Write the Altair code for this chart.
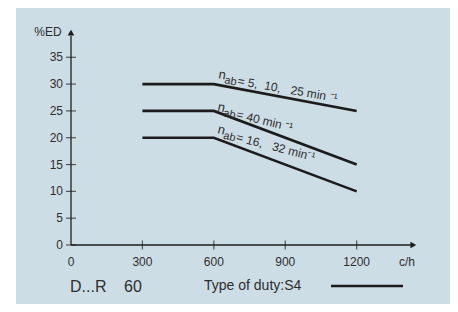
import altair as alt
import pandas as pd

# ---- data ----
x_knots = [300, 600, 1200]
ed_a = [30, 30, 25]   # n_ab = 5, 10, 25 min-1
ed_b = [25, 25, 15]   # n_ab = 40 min-1
ed_c = [20, 20, 10]   # n_ab = 16, 32 min-1

x_ticks = [300, 600, 900, 1200]
x_tick_labels = ["0", "300", "600", "900", "1200"]
x_label_vals = [0, 300, 600, 900, 1200]
y_ticks = [0, 5, 10, 15, 20, 25, 30, 35]

NB = "\u00a0"
label_texts = [
    "=" + NB + "5," + NB * 2 + "10," + NB * 3 + "25" + NB + "min" + NB + "\u207b\u00b9",
    "=" + NB + "40" + NB + "min" + NB + "\u207b\u00b9",
    "=" + NB + "16," + NB * 3 + "32" + NB + "min\u207b\u00b9",
]
label_x = [617, 613, 613]
label_y = [31.1, 25.1, 20.9]
label_angle = [10, 13.5, 14.5]

x_axis_end = 1430
y_axis_end = 39
x_arrow = 1438
y_arrow = 39.6

PANEL = "#cddde6"
INK = "#1c1c1c"
TXT = "#2e2e2e"
FONT = "Liberation Sans"

xs = alt.Scale(domain=[-231, 1592], nice=False, zero=False)
ys = alt.Scale(domain=[-11.0, 44.19], nice=False, zero=False)

rows = []
for name, vals in [("a", ed_a), ("b", ed_b), ("c", ed_c)]:
    for xv, yv in zip(x_knots, vals):
        rows.append({"series": name, "x": xv, "y": yv})
df_lines = pd.DataFrame(rows)

lines = alt.Chart(df_lines).mark_line(color=INK, strokeWidth=2.6).encode(
    x=alt.X("x:Q", scale=xs, axis=None),
    y=alt.Y("y:Q", scale=ys, axis=None),
    detail="series:N",
)

xaxis = alt.Chart(pd.DataFrame({"x": [0], "x2": [x_axis_end], "y": [0]})).mark_rule(
    color=INK, strokeWidth=1.3).encode(
    x=alt.X("x:Q", scale=xs, axis=None), x2="x2:Q", y=alt.Y("y:Q", scale=ys, axis=None))
yaxis = alt.Chart(pd.DataFrame({"x": [0], "y": [0], "y2": [y_axis_end]})).mark_rule(
    color=INK, strokeWidth=1.3).encode(
    x=alt.X("x:Q", scale=xs, axis=None), y=alt.Y("y:Q", scale=ys, axis=None), y2="y2:Q")

ytk = alt.Chart(pd.DataFrame({"x": 0, "y": y_ticks})).mark_tick(
    orient="horizontal", size=10, thickness=1.2, color=INK).encode(
    x=alt.X("x:Q", scale=xs, axis=None), y=alt.Y("y:Q", scale=ys, axis=None))
xtk = alt.Chart(pd.DataFrame({"x": x_ticks, "y": 0})).mark_tick(
    orient="vertical", size=9, thickness=1.2, color=INK).encode(
    x=alt.X("x:Q", scale=xs, axis=None), y=alt.Y("y:Q", scale=ys, axis=None))

arrow_up = alt.Chart(pd.DataFrame({"x": [0], "y": [y_arrow]})).mark_point(
    shape="triangle-up", filled=True, size=45, color=INK, opacity=1).encode(
    x=alt.X("x:Q", scale=xs, axis=None), y=alt.Y("y:Q", scale=ys, axis=None))
arrow_right = alt.Chart(pd.DataFrame({"x": [x_arrow], "y": [0]})).mark_point(
    shape="triangle-right", filled=True, size=45, color=INK, opacity=1).encode(
    x=alt.X("x:Q", scale=xs, axis=None), y=alt.Y("y:Q", scale=ys, axis=None))

ylab = alt.Chart(pd.DataFrame({"x": 0, "y": y_ticks, "t": [str(v) for v in y_ticks]})).mark_text(
    align="right", baseline="middle", dx=-8, fontSize=12, font=FONT, color=TXT).encode(
    x=alt.X("x:Q", scale=xs, axis=None), y=alt.Y("y:Q", scale=ys, axis=None), text="t:N")
xlab = alt.Chart(pd.DataFrame({"x": x_label_vals, "y": 0, "t": x_tick_labels})).mark_text(
    align="center", baseline="middle", dy=17, fontSize=12, font=FONT, color=TXT).encode(
    x=alt.X("x:Q", scale=xs, axis=None), y=alt.Y("y:Q", scale=ys, axis=None), text="t:N")

df_lab = pd.DataFrame({"x": label_x, "y": label_y, "a": label_angle, "t": label_texts})
def lab_layer(text_field, dx, dy, size):
    return alt.Chart(df_lab).mark_text(
        align="left", baseline="alphabetic", dx=dx, dy=dy, fontSize=size, font=FONT, color=TXT).encode(
        x=alt.X("x:Q", scale=xs, axis=None), y=alt.Y("y:Q", scale=ys, axis=None),
        angle=alt.Angle("a:Q", scale=None), text=text_field)

lab_n = lab_layer(alt.value("n"), 0, 0, 13)
lab_ab = lab_layer(alt.value("ab"), 7, 4, 11)
lab_main = lab_layer("t:N", 20, 3, 12)

ann = pd.DataFrame({
    "t": ["%ED", "c/h"],
    "px": [32, 391],
    "py": [23.7, 254],
})
ann_small = alt.Chart(ann).mark_text(align="center", baseline="middle", fontSize=12, font=FONT,
                                     color=TXT).encode(
    x=alt.X("px:Q", scale=None), y=alt.Y("py:Q", scale=None), text="t:N")

bottom = pd.DataFrame({"t": ["D...R", "60"], "px": [54, 108], "py": [279, 279]})
bottom_txt = alt.Chart(bottom).mark_text(align="left", baseline="middle", fontSize=16, font=FONT,
                                         color=TXT).encode(
    x=alt.X("px:Q", scale=None), y=alt.Y("py:Q", scale=None), text="t:N")
duty = alt.Chart(pd.DataFrame({"t": ["Type of duty:S4"], "px": [188], "py": [278]})).mark_text(
    align="left", baseline="middle", fontSize=14, font=FONT, color=TXT).encode(
    x=alt.X("px:Q", scale=None), y=alt.Y("py:Q", scale=None), text="t:N")
legend_line = alt.Chart(pd.DataFrame({"px": [315], "px2": [387], "py": [278]})).mark_rule(
    color=INK, strokeWidth=2.6).encode(
    x=alt.X("px:Q", scale=None), x2="px2:Q", y=alt.Y("py:Q", scale=None))

chart = alt.layer(
    xaxis, yaxis, ytk, xtk, arrow_up, arrow_right, lines, ylab, xlab,
    lab_n, lab_ab, lab_main, ann_small, bottom_txt, duty, legend_line,
).resolve_scale(x="shared", y="shared").properties(
    width=434, height=296,
    autosize=alt.AutoSizeParams(type="none"),
    padding={"left": 8, "top": 0, "right": 0, "bottom": 0},
    background="white",
).configure_view(fill=PANEL, stroke=None)

chart.save("out.html", embed_options={"renderer": "svg", "actions": False})
